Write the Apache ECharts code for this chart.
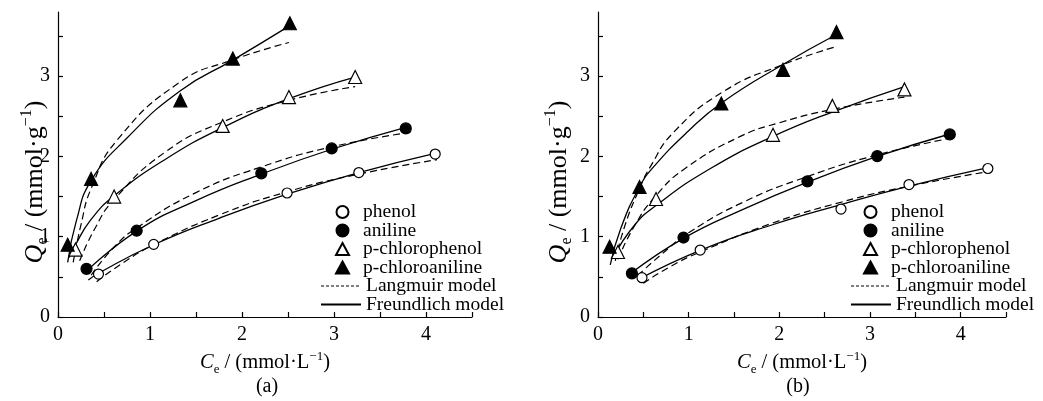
<!DOCTYPE html>
<html><head><meta charset="utf-8">
<script src="https://cdn.jsdelivr.net/npm/echarts@6/dist/echarts.min.js"></script>
<style>html,body{margin:0;padding:0;background:#fff}#c{width:1043px;height:401px}</style>
</head><body><div id="c"></div>
<script>
// ---- tick labels / categories ----
const xTickLabels = [0, 1, 2, 3, 4];
const yTickLabels = [0, 1, 2, 3];
const xTickValues = [0, 0.5, 1, 1.5, 2, 2.5, 3, 3.5, 4, 4.5];
const yTickValues = [0, 0.5, 1, 1.5, 2, 2.5, 3, 3.5];
const compounds = ['phenol', 'aniline', 'p-chlorophenol', 'p-chloroaniline'];
const modelNames = ['Langmuir model', 'Freundlich model'];
const panelLabels = ['(a)', '(b)'];

// ---- panel (a): measured points [Ce, Qe] ----
const a_phenol = [[0.44,0.535],[1.04,0.905],[2.49,1.545],[3.27,1.80],[4.10,2.03]];
const a_aniline = [[0.31,0.60],[0.855,1.075],[2.21,1.79],[2.975,2.10],[3.78,2.35]];
const a_pcp = [[0.19,0.84],[0.61,1.50],[1.79,2.38],[2.51,2.74],[3.23,2.99]];
const a_pca = [[0.105,0.90],[0.36,1.72],[1.33,2.70],[1.90,3.22],[2.52,3.66]];
// panel (a): Langmuir (dashed) curves
const a_phenol_L = [[0.42,0.44],[0.7,0.67],[1.04,0.9],[1.75,1.27],[2.49,1.56],[3.27,1.78],[4.12,1.96]];
const a_aniline_L = [[0.36,0.52],[0.6,0.86],[0.855,1.11],[1.5,1.55],[2.21,1.87],[2.975,2.12],[3.83,2.30]];
const a_pcp_L = [[0.235,0.70],[0.4,1.10],[0.6,1.45],[1.16,2.05],[1.79,2.43],[2.51,2.70],[3.23,2.87]];
const a_pca_L = [[0.165,0.68],[0.25,1.15],[0.36,1.6],[0.64,2.2],[1.33,2.93],[1.89,3.2],[2.51,3.42]];
// panel (a): Freundlich (solid) curves
const a_phenol_F = [[0.33,0.46],[0.44,0.545],[1.04,0.9],[1.75,1.23],[2.49,1.53],[3.27,1.80],[4.10,2.04]];
const a_aniline_F = [[0.29,0.55],[0.855,1.07],[1.5,1.45],[2.21,1.78],[2.975,2.09],[3.80,2.37]];
const a_pcp_F = [[0.12,0.74],[0.19,0.90],[0.35,1.2],[0.6,1.5],[1.16,1.96],[1.79,2.36],[2.51,2.72],[3.23,2.99]];
const a_pca_F = [[0.105,0.68],[0.2,1.2],[0.36,1.70],[0.75,2.23],[1.33,2.82],[1.9,3.2],[2.52,3.63]];

// ---- panel (b): measured points ----
const b_phenol = [[0.485,0.49],[1.127,0.834],[2.68,1.345],[3.43,1.65],[4.30,1.85]];
const b_aniline = [[0.374,0.544],[0.943,0.99],[2.31,1.69],[3.08,2.005],[3.88,2.275]];
const b_pcp = [[0.22,0.81],[0.64,1.47],[1.93,2.27],[2.585,2.63],[3.38,2.835]];
const b_pca = [[0.128,0.875],[0.458,1.62],[1.36,2.66],[2.04,3.08],[2.63,3.55]];
// panel (b): Langmuir curves
const b_phenol_L = [[0.5,0.42],[0.8,0.63],[1.127,0.81],[1.9,1.16],[2.68,1.43],[3.43,1.63],[4.30,1.81]];
const b_aniline_L = [[0.44,0.52],[0.7,0.78],[1.0,1.05],[1.6,1.43],[2.31,1.75],[3.08,2.02],[3.88,2.225]];
const b_pcp_L = [[0.22,0.72],[0.4,1.13],[0.63,1.50],[0.96,1.85],[1.57,2.25],[2.0,2.42],[2.6,2.59],[3.38,2.74]];
const b_pca_L = [[0.19,0.7],[0.3,1.15],[0.458,1.6],[0.576,1.87],[0.833,2.3],[1.385,2.81],[2.03,3.14],[2.63,3.37]];
// panel (b): Freundlich curves
const b_phenol_F = [[0.45,0.47],[1.127,0.83],[1.9,1.14],[2.68,1.40],[3.43,1.63],[4.30,1.86]];
const b_aniline_F = [[0.37,0.55],[0.943,0.98],[1.6,1.34],[2.31,1.68],[3.08,2.0],[3.88,2.28]];
const b_pcp_F = [[0.17,0.75],[0.4,1.14],[0.64,1.39],[1.24,1.85],[1.93,2.25],[2.6,2.56],[3.38,2.87]];
const b_pca_F = [[0.135,0.65],[0.25,1.1],[0.458,1.62],[0.613,1.87],[1.0,2.32],[1.366,2.67],[2.03,3.14],[2.63,3.52]];

const panels = [
  {pts:[a_phenol,a_aniline,a_pcp,a_pca], L:[a_phenol_L,a_aniline_L,a_pcp_L,a_pca_L], F:[a_phenol_F,a_aniline_F,a_pcp_F,a_pca_F]},
  {pts:[b_phenol,b_aniline,b_pcp,b_pca], L:[b_phenol_L,b_aniline_L,b_pcp_L,b_pca_L], F:[b_phenol_F,b_aniline_F,b_pcp_F,b_pca_F]}
];

// ---- styles / layout ----
const FONT = '"Liberation Serif", "Times New Roman", serif';
const markerStyles = [
  {symbol:'circle', size:10, fill:'#fff'},
  {symbol:'circle', size:11, fill:'#000'},
  {symbol:'triangle', size:13, fill:'#fff'},
  {symbol:'triangle', size:13, fill:'#000'}
];
const grids = [
  {left:58, top:12, width:414, height:305},
  {left:598, top:12, width:408, height:305}
];
const markerLegendLeft = [330, 858];
const modelLegendLeft = [315, 845];
const yNamePos = [[35,182],[559,182]];
const captionPos = [[267,387],[798,387]];

const series = [];
panels.forEach((p, pi) => {
  for (let k = 0; k < 4; k++) {
    series.push({type:'line', name:modelNames[0], xAxisIndex:pi, yAxisIndex:pi, data:p.L[k],
      smooth:0.5, symbol:'none', silent:true, z:2,
      itemStyle:{color:'#000'},
      lineStyle:{color:'#000', width:1.2, type:[7,4]}});
    series.push({type:'line', name:modelNames[1], xAxisIndex:pi, yAxisIndex:pi, data:p.F[k],
      smooth:0.5, symbol:'none', silent:true, z:3,
      itemStyle:{color:'#000'},
      lineStyle:{color:'#000', width:1.3}});
  }
  for (let k = 0; k < 4; k++) {
    const m = markerStyles[k];
    series.push({type:'scatter', name:compounds[k], xAxisIndex:pi, yAxisIndex:pi, data:p.pts[k],
      symbol:m.symbol, symbolSize:m.size, z:5,
      itemStyle:{color:m.fill, borderColor:'#000', borderWidth:1.2, opacity:1}});
  }
});

const xName = '{i|C}{s|e}{n| / (mmol·L}{p|−1}{n|)}';
const nameRich = {
  i:{fontStyle:'italic', fontSize:20.5, fontFamily:FONT, color:'#000', lineHeight:26},
  n:{fontSize:20.5, fontFamily:FONT, color:'#000', lineHeight:26},
  s:{fontSize:13, fontFamily:FONT, color:'#000', lineHeight:13, verticalAlign:'bottom'},
  p:{fontSize:13, fontFamily:FONT, color:'#000', lineHeight:13, verticalAlign:'top'}
};

const xAxes = grids.map((g, i) => ({
  type:'value', gridIndex:i, min:0, max:4.5, interval:0.5,
  axisLine:{lineStyle:{color:'#000', width:1.2}},
  axisTick:{inside:true, length:5, lineStyle:{color:'#000', width:1.2}, customValues:xTickValues},
  axisLabel:{customValues:xTickLabels, fontSize:20, fontFamily:FONT, color:'#000', margin:8,
    formatter:v => (Math.abs(v - Math.round(v)) < 1e-6 ? String(Math.round(v)) : '')},
  splitLine:{show:false},
  name:xName, nameLocation:'middle', nameGap:29,
  nameTextStyle:{fontSize:20.5, fontFamily:FONT, color:'#000', lineHeight:26, rich:nameRich}
}));
const yAxes = grids.map((g, i) => ({
  type:'value', gridIndex:i, min:0, max:3.8, interval:0.5,
  axisLine:{lineStyle:{color:'#000', width:1.2}},
  axisTick:{inside:true, length:5, lineStyle:{color:'#000', width:1.2}, customValues:yTickValues},
  axisLabel:{customValues:yTickLabels, fontSize:20, fontFamily:FONT, color:'#000', margin:8,
    formatter:v => (Math.abs(v - Math.round(v)) < 1e-6 ? String(Math.round(v)) : '')},
  splitLine:{show:false}
}));

// two legends per panel: markers (narrow icons) and model lines (wide icons)
const legends = [];
markerLegendLeft.forEach(l => legends.push({
  orient:'vertical', left:l, top:197, itemWidth:13, itemHeight:12, itemGap:-1.5,
  selectedMode:false, data:compounds.slice(),
  textStyle:{fontSize:19.5, fontFamily:FONT, color:'#000', padding:[0,0,0,9]}
}));
modelLegendLeft.forEach(l => legends.push({
  orient:'vertical', left:l, top:271, itemWidth:40, itemHeight:12, itemGap:-1.5,
  selectedMode:false,
  data:[{name:modelNames[0], itemStyle:{opacity:0}, lineStyle:{type:[3,2], width:1.2, color:'#000'}},
        {name:modelNames[1], itemStyle:{opacity:0}}],
  textStyle:{fontSize:19.5, fontFamily:FONT, color:'#000'}
}));

const yRich = {
  i:{fontStyle:'italic', fontSize:26, fontFamily:FONT, fill:'#000', lineHeight:32},
  n:{fontSize:26, fontFamily:FONT, fill:'#000', lineHeight:32},
  s:{fontSize:16, fontFamily:FONT, fill:'#000', lineHeight:16, verticalAlign:'bottom'},
  p:{fontSize:16, fontFamily:FONT, fill:'#000', lineHeight:16, verticalAlign:'top'}
};
const graphics = [];
yNamePos.forEach(pos => graphics.push({type:'text', x:pos[0], y:pos[1], rotation:Math.PI/2, silent:true,
  style:{text:'{i|Q}{s|e}{n| / (mmol·g}{p|−1}{n|)}', rich:yRich, fontSize:26, fontFamily:FONT, fill:'#000', align:'center', verticalAlign:'middle'}}));
captionPos.forEach((pos, i) => graphics.push({type:'text', x:pos[0], y:pos[1], silent:true,
  style:{text:panelLabels[i], fontSize:20, fontFamily:FONT, fill:'#000', align:'center', verticalAlign:'middle'}}));

const chart = echarts.init(document.getElementById('c'), null, {renderer:'canvas'});
chart.setOption({
  animation:false, backgroundColor:'#fff',
  grid:grids, xAxis:xAxes, yAxis:yAxes, legend:legends, series:series, graphic:graphics
});
</script></body></html>
